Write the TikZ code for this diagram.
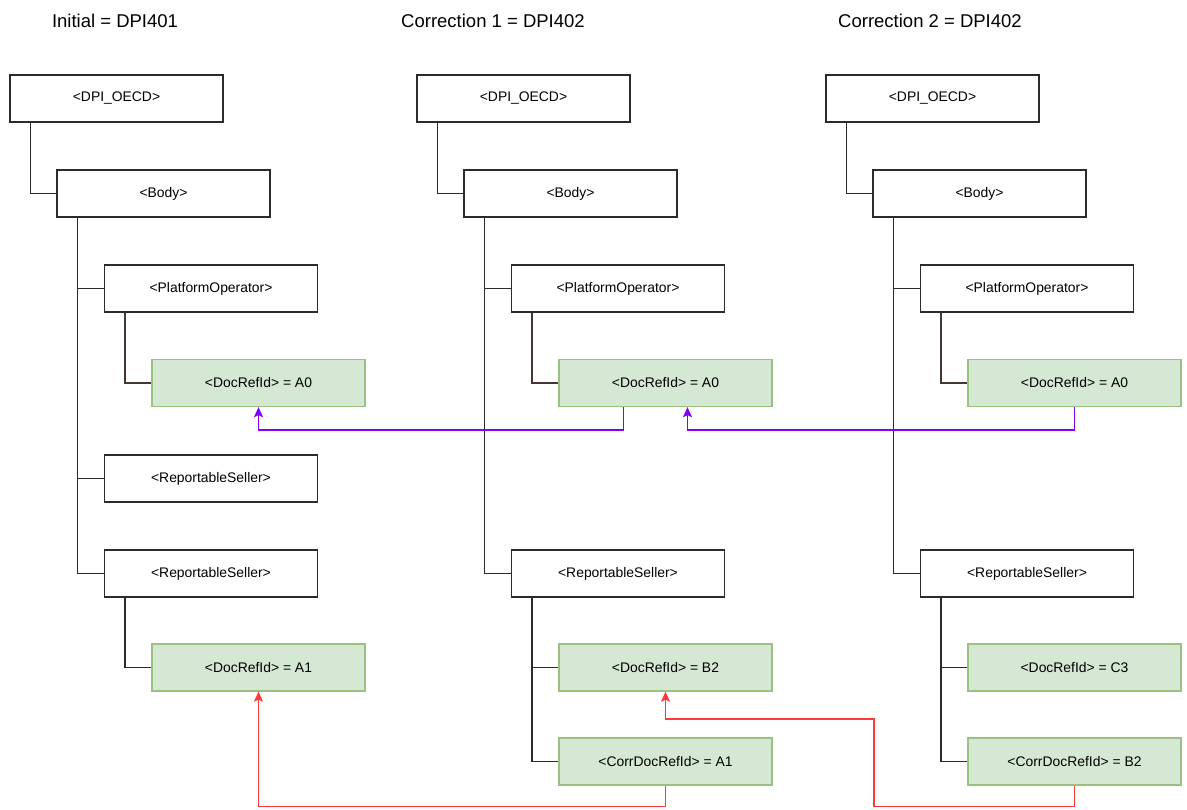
\documentclass[tikz,border=0pt]{standalone}
\usepackage{fontspec}
\setmainfont{Liberation Sans}
\usetikzlibrary{arrows.meta,calc}
\definecolor{gfill}{HTML}{D5E8D4}
\definecolor{gline}{HTML}{9AC17F}
\definecolor{purp}{HTML}{7F00FF}
\definecolor{redl}{HTML}{FF3838}
\definecolor{treel}{HTML}{2B2B2B}
\definecolor{brownl}{HTML}{4A3535}
\begin{document}
\begin{tikzpicture}[x=1pt,y=-1pt,
  box/.style={rectangle,minimum width=213pt,minimum height=47pt,inner sep=0pt,font=\fontsize{13.9}{16}\selectfont},
  wbox/.style={box,draw=treel,line width=1.3pt,fill=white},
  gbox/.style={box,draw=gline,line width=1.3pt,fill=gfill},
  tree/.style={draw=treel,line width=1.3pt},
  btree/.style={draw=brownl,line width=1.3pt},
  purpa/.style={draw=purp,line width=1.3pt,-{Stealth[length=10pt,width=9pt,inset=2pt]}},
  reda/.style={draw=redl,line width=1.3pt,-{Stealth[length=10pt,width=9pt,inset=2pt]}},
  title/.style={font=\fontsize{18.5}{22}\selectfont,inner sep=0pt}]
\useasboundingbox (0,0) rectangle (1187,810);
\fill[white] (0,0) rectangle (1187,810);

\node[title] (t1) at (115,21) {Initial = DPI401};
\node[title] (t2) at (493,21) {Correction 1 = DPI402};
\node[title] (t3) at (930,21) {Correction 2 = DPI402};

% column 1
\node[wbox] (d1) at (116.5,98.5) {<DPI\_OECD>};
\node[wbox] (b1) at (163.5,193.5) {<Body>};
\node[wbox] (p1) at (211,288.5) {<PlatformOperator>};
\node[gbox] (a01) at (258.5,383) {<DocRefId> = A0};
\node[wbox] (r11) at (211,478.5) {<ReportableSeller>};
\node[wbox] (r21) at (211,573.5) {<ReportableSeller>};
\node[gbox] (a11) at (258.5,667.5) {<DocRefId> = A1};
\draw[tree] ([xshift=21pt]d1.south west) |- (b1.west);
\draw[tree] ([xshift=21pt]b1.south west) |- (r21.west);
\draw[tree] ([xshift=21pt]b1.south west) |- (p1.west);
\draw[tree] ([xshift=21pt]b1.south west) |- (r11.west);
\draw[btree] ([xshift=21pt]p1.south west) |- (a01.west);
\draw[tree] ([xshift=21pt]r21.south west) |- (a11.west);

% column 2
\node[wbox] (d2) at (523.5,98.5) {<DPI\_OECD>};
\node[wbox] (b2) at (570.5,193.5) {<Body>};
\node[wbox] (p2) at (618,288.5) {<PlatformOperator>};
\node[gbox] (a02) at (665.5,383) {<DocRefId> = A0};
\node[wbox] (r2) at (618,573.5) {<ReportableSeller>};
\node[gbox] (bb2) at (665.5,667.5) {<DocRefId> = B2};
\node[gbox] (c2) at (665.5,761.5) {<CorrDocRefId> = A1};
\draw[tree] ([xshift=21pt]d2.south west) |- (b2.west);
\draw[tree] ([xshift=21pt]b2.south west) |- (r2.west);
\draw[tree] ([xshift=21pt]b2.south west) |- (p2.west);
\draw[btree] ([xshift=21pt]p2.south west) |- (a02.west);
\draw[tree] ([xshift=21pt]r2.south west) |- (c2.west);
\draw[tree] ([xshift=21pt]r2.south west) |- (bb2.west);

% column 3
\node[wbox] (d3) at (932.5,98.5) {<DPI\_OECD>};
\node[wbox] (b3) at (979.5,193.5) {<Body>};
\node[wbox] (p3) at (1027,288.5) {<PlatformOperator>};
\node[gbox] (a03) at (1074.5,383) {<DocRefId> = A0};
\node[wbox] (r3) at (1027,573.5) {<ReportableSeller>};
\node[gbox] (cc3) at (1074.5,667.5) {<DocRefId> = C3};
\node[gbox] (c3) at (1074.5,761.5) {<CorrDocRefId> = B2};
\draw[tree] ([xshift=21pt]d3.south west) |- (b3.west);
\draw[tree] ([xshift=21pt]b3.south west) |- (r3.west);
\draw[tree] ([xshift=21pt]b3.south west) |- (p3.west);
\draw[btree] ([xshift=21pt]p3.south west) |- (a03.west);
\draw[tree] ([xshift=21pt]r3.south west) |- (c3.west);
\draw[tree] ([xshift=21pt]r3.south west) |- (cc3.west);

% cross references
\coordinate (k) at (874,719);
\draw[purpa] ([xshift=-42pt]a02.south) -- ++(0,23) -| (a01.south);
\draw[purpa] (a03.south) -- ++(0,23) -| ([xshift=22pt]a02.south);
\draw[reda] (c2.south) -- ++(0,21) -| (a11.south);
\draw[reda] (c3.south) -- ++(0,21) -| (k) -| (bb2.south);
\end{tikzpicture}
\end{document}
